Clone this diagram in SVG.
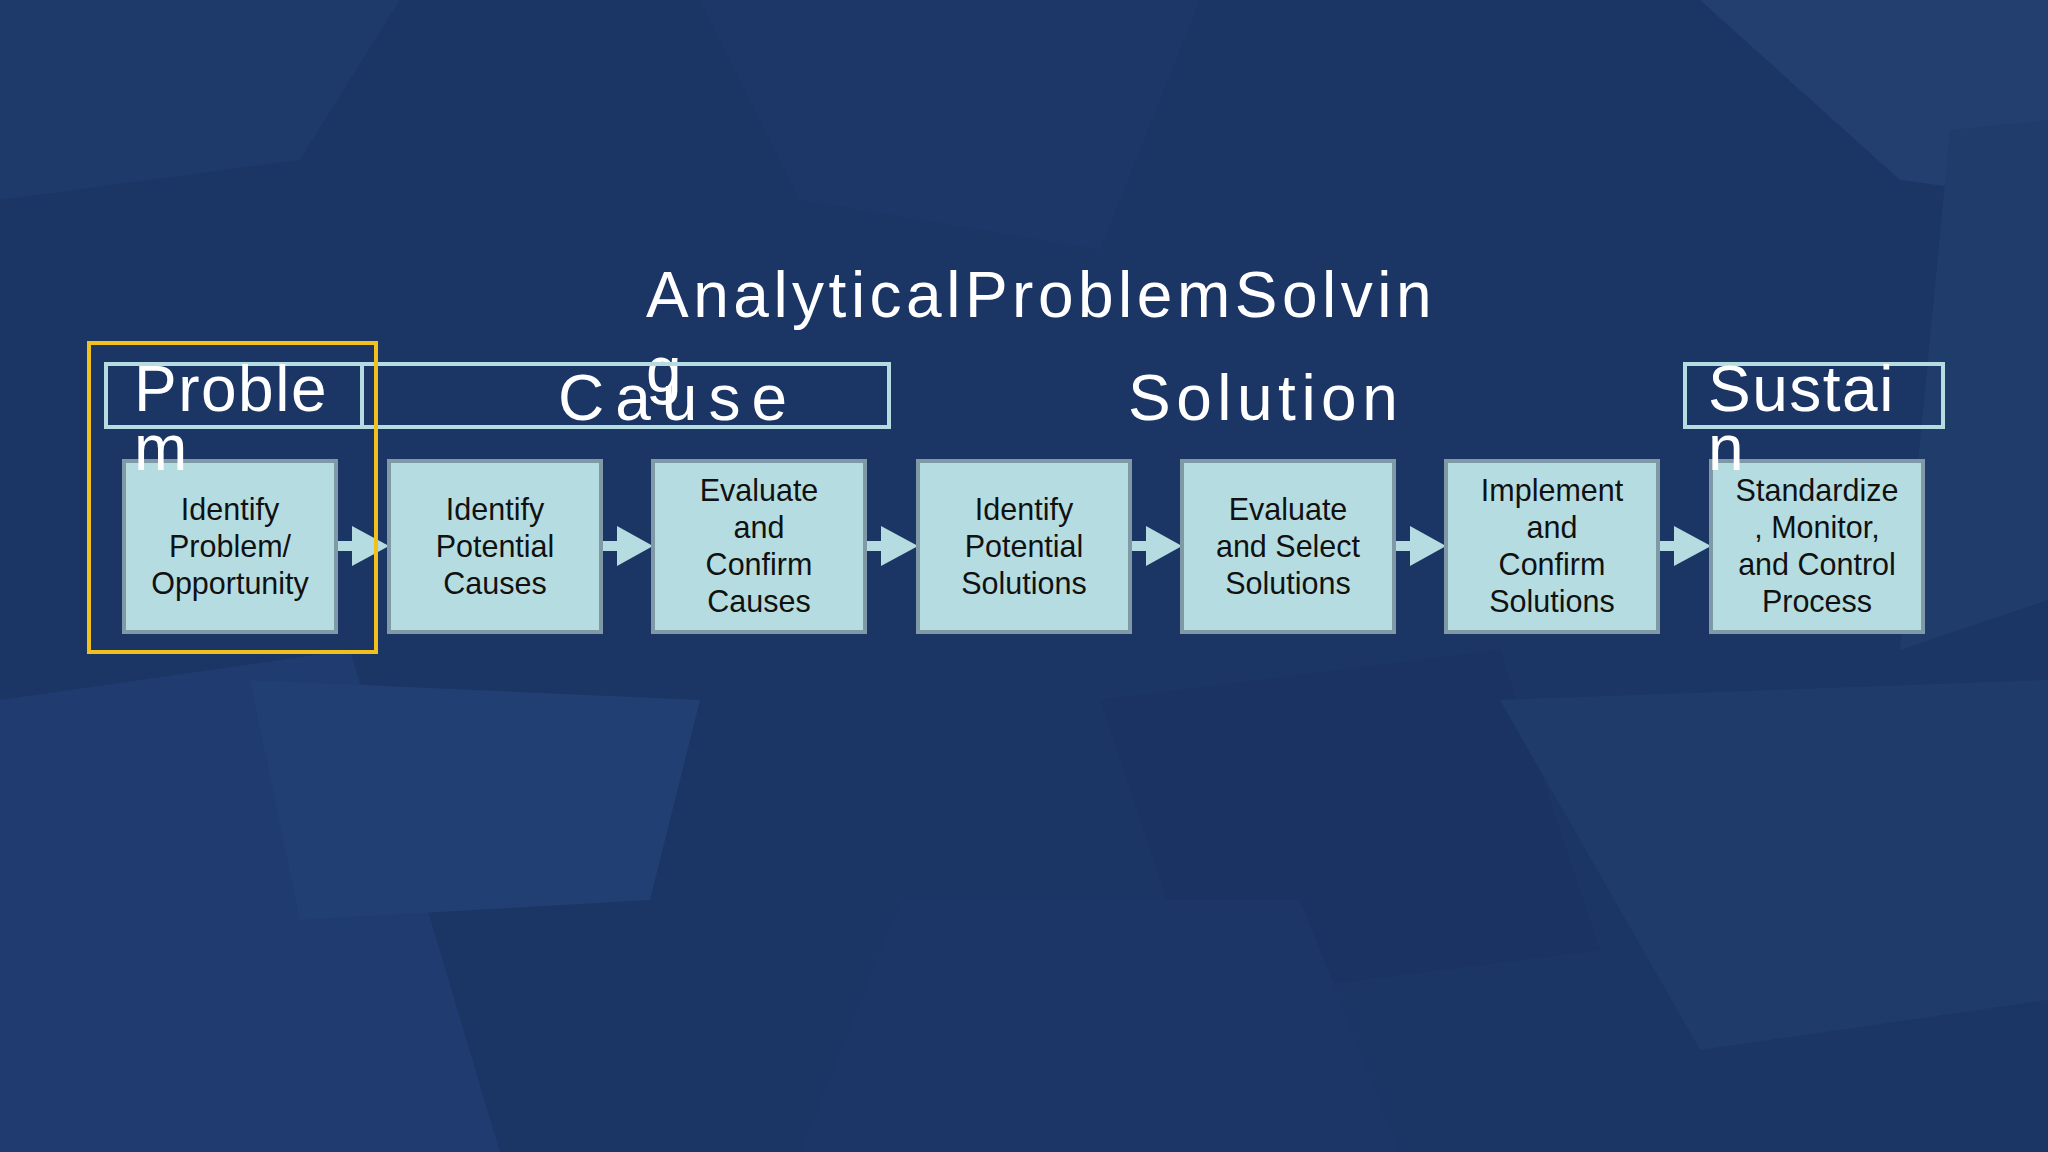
<svg xmlns="http://www.w3.org/2000/svg" width="2048" height="1152" viewBox="0 0 2048 1152">
<style>
.bx{fill:#b5dde1;stroke:#7f9aa6;stroke-width:4}
.bt{font-family:"Liberation Sans",Arial,sans-serif;font-size:30.5px;fill:#111;text-anchor:middle}
.hd{font-family:"Liberation Sans",Arial,sans-serif;font-size:64px;fill:#fff}
.hb{fill:none;stroke:#b5dde1;stroke-width:4}
.ar{fill:#b5dde1}
</style>
<rect width="2048" height="1152" fill="#1b3565"/>
<g opacity="0.5">
<polygon points="0,0 400,0 300,160 0,200" fill="#22406f"/>
<polygon points="700,0 1200,0 1100,250 800,200" fill="#1f3b6c"/>
<polygon points="1700,0 2048,0 2048,200 1900,180" fill="#2a4a7c"/>
<polygon points="0,700 350,650 500,1152 0,1152" fill="#23427a"/>
<polygon points="250,680 700,700 650,900 300,920" fill="#284a80"/>
<polygon points="1100,700 1500,650 1600,950 1200,1000" fill="#1a3262"/>
<polygon points="1500,700 2048,680 2048,1000 1700,1050" fill="#22426f"/>
<polygon points="900,900 1300,900 1400,1152 800,1152" fill="#1e3a6a"/>
<polygon points="1950,130 2048,120 2048,600 1900,650" fill="#24446f"/>
</g>
<text class="hd" x="646" y="317" font-size="68" letter-spacing="4.5">AnalyticalProblemSolvin</text>
<text class="hd" x="646" y="392" font-size="68">g</text>
<g id="connectors">
<g class="ar">
<rect x="336" y="541" width="22" height="10"/><polygon points="352,526 389,546 352,566"/>
<rect x="601" y="541" width="22" height="10"/><polygon points="617,526 653,546 617,566"/>
<rect x="865" y="541" width="22" height="10"/><polygon points="881,526 918,546 881,566"/>
<rect x="1130" y="541" width="22" height="10"/><polygon points="1146,526 1182,546 1146,566"/>
<rect x="1394" y="541" width="22" height="10"/><polygon points="1410,526 1446,546 1410,566"/>
<rect x="1658" y="541" width="22" height="10"/><polygon points="1674,526 1711,546 1674,566"/>
</g>
</g>
<g id="n1"><rect class="bx" x="124" y="461" width="212" height="171"/><text class="bt" x="230" y="520">Identify</text><text class="bt" x="230" y="557">Problem/</text><text class="bt" x="230" y="594">Opportunity</text></g>
<g id="n2"><rect class="bx" x="389" y="461" width="212" height="171"/><text class="bt" x="495" y="520">Identify</text><text class="bt" x="495" y="557">Potential</text><text class="bt" x="495" y="594">Causes</text></g>
<g id="n3"><rect class="bx" x="653" y="461" width="212" height="171"/><text class="bt" x="759" y="501">Evaluate</text><text class="bt" x="759" y="538">and</text><text class="bt" x="759" y="575">Confirm</text><text class="bt" x="759" y="612">Causes</text></g>
<g id="n4"><rect class="bx" x="918" y="461" width="212" height="171"/><text class="bt" x="1024" y="520">Identify</text><text class="bt" x="1024" y="557">Potential</text><text class="bt" x="1024" y="594">Solutions</text></g>
<g id="n5"><rect class="bx" x="1182" y="461" width="212" height="171"/><text class="bt" x="1288" y="520">Evaluate</text><text class="bt" x="1288" y="557">and Select</text><text class="bt" x="1288" y="594">Solutions</text></g>
<g id="n6"><rect class="bx" x="1446" y="461" width="212" height="171"/><text class="bt" x="1552" y="501">Implement</text><text class="bt" x="1552" y="538">and</text><text class="bt" x="1552" y="575">Confirm</text><text class="bt" x="1552" y="612">Solutions</text></g>
<g id="n7"><rect class="bx" x="1711" y="461" width="212" height="171"/><text class="bt" x="1817" y="501">Standardize</text><text class="bt" x="1817" y="538">, Monitor,</text><text class="bt" x="1817" y="575">and Control</text><text class="bt" x="1817" y="612">Process</text></g>
<g id="h-problem"><rect class="hb" x="106" y="364" width="256" height="63"/><text class="hd" x="134" y="411" letter-spacing="1.5">Proble</text><text class="hd" x="134" y="470">m</text></g>
<g id="h-cause"><rect class="hb" x="362" y="364" width="527" height="63"/><text class="hd" x="558" y="420" letter-spacing="11">Cause</text></g>
<g id="h-solution"><text class="hd" x="1128" y="420" letter-spacing="5.5">Solution</text></g>
<g id="h-sustain"><rect class="hb" x="1685" y="364" width="258" height="63"/><text class="hd" x="1708" y="411" letter-spacing="1.5">Sustai</text><text class="hd" x="1708" y="470">n</text></g>
<rect x="89" y="343" width="287" height="309" fill="none" stroke="#f2c01c" stroke-width="4"/>
</svg>
